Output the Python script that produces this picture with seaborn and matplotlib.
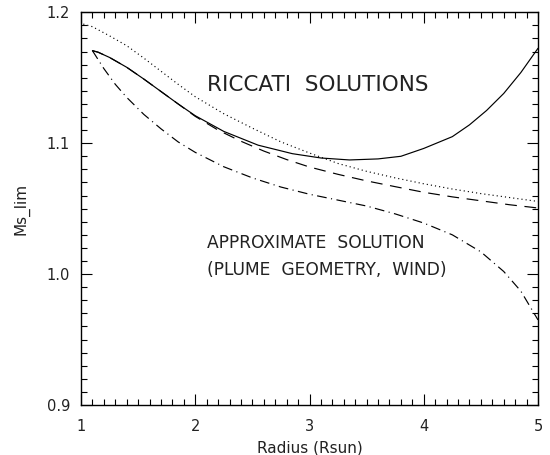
import numpy as np
import pandas as pd
import matplotlib
matplotlib.use("Agg")
import matplotlib.pyplot as plt
import seaborn as sns
from matplotlib.ticker import MultipleLocator

sns.set_style("ticks")
plt.rcParams['font.family'] = ['DejaVu Sans']
plt.rcParams['lines.scale_dashes'] = False

# ---- data ----
solid_x = [1.10, 1.15, 1.25, 1.40, 1.55, 1.70, 1.85, 2.00, 2.25, 2.55, 2.85, 3.10, 3.35,
           3.60, 3.80, 4.00, 4.25, 4.40, 4.55, 4.70, 4.85, 5.00]
solid_y = [1.1707, 1.1695, 1.1655, 1.158, 1.149, 1.1395, 1.130, 1.121, 1.109, 1.0985,
           1.092, 1.0887, 1.0872, 1.088, 1.090, 1.096, 1.105, 1.114, 1.125, 1.138, 1.154, 1.1725]

dotted_x = [1.02, 1.10, 1.25, 1.40, 1.55, 1.70, 1.85, 2.00, 2.25, 2.50, 2.75, 3.00, 3.25,
            3.50, 3.75, 4.00, 4.25, 4.50, 4.75, 5.00]
dotted_y = [1.191, 1.189, 1.182, 1.1745, 1.165, 1.155, 1.145, 1.1355, 1.1225, 1.1115, 1.101,
            1.0925, 1.0845, 1.0785, 1.0735, 1.069, 1.065, 1.0615, 1.0585, 1.0555]

dashed_x = [1.10, 1.15, 1.25, 1.40, 1.55, 1.70, 1.85, 2.00, 2.20, 2.40, 2.60, 2.80, 3.00,
            3.25, 3.50, 3.75, 4.00, 4.25, 4.50, 4.75, 5.00]
dashed_y = [1.1707, 1.1695, 1.1655, 1.158, 1.149, 1.1395, 1.130, 1.1205, 1.110, 1.1015,
            1.094, 1.0875, 1.0818, 1.0762, 1.0712, 1.0668, 1.0625, 1.059, 1.056, 1.053, 1.0505]

dashdot_x = [1.10, 1.20, 1.30, 1.40, 1.55, 1.70, 1.85, 2.00, 2.25, 2.50, 2.75, 3.00, 3.25,
             3.50, 3.75, 4.00, 4.25, 4.50, 4.70, 4.85, 5.00]
dashdot_y = [1.1707, 1.157, 1.145, 1.135, 1.122, 1.111, 1.101, 1.093, 1.082, 1.0735, 1.0665,
             1.061, 1.0565, 1.052, 1.046, 1.039, 1.030, 1.017, 1.002, 0.987, 0.965]

x_ticks = [1, 2, 3, 4, 5]
x_ticklabels = ["1", "2", "3", "4", "5"]
y_ticks = [0.9, 1.0, 1.1, 1.2]
y_ticklabels = ["0.9", "1.0", "1.1", "1.2"]

fig = plt.figure(figsize=(5.5, 4.55), dpi=100)
ax = fig.add_axes([81/550, 1 - 405/455, (538 - 81)/550, (405 - 12.3)/455])

lw = 0.85
sns.lineplot(x=solid_x, y=solid_y, ax=ax, color="black", lw=lw, sort=False, estimator=None)
sns.lineplot(x=dotted_x, y=dotted_y, ax=ax, color="black", lw=lw, sort=False, estimator=None,
             dashes=False)
ax.lines[-1].set_dashes((0.8, 2.2))
sns.lineplot(x=dashed_x, y=dashed_y, ax=ax, color="black", lw=lw, sort=False, estimator=None)
ax.lines[-1].set_dashes((8.5, 5.5))
sns.lineplot(x=dashdot_x, y=dashdot_y, ax=ax, color="black", lw=lw, sort=False, estimator=None)
ax.lines[-1].set_dashes((7.0, 3.2, 0.8, 3.2))

ax.set_xlim(1, 5)
ax.set_ylim(0.9, 1.2)
ax.set_xticks(x_ticks)
ax.set_xticklabels(x_ticklabels)
ax.set_yticks(y_ticks)
ax.set_yticklabels(y_ticklabels)
ax.xaxis.set_minor_locator(MultipleLocator(0.1))
ax.yaxis.set_minor_locator(MultipleLocator(0.01))
ax.tick_params(which="both", direction="in", top=True, right=True, color="black",
               width=0.8, labelsize=10.5, labelcolor="#222222")
ax.tick_params(which="major", length=8)
ax.tick_params(which="minor", length=4)
ax.tick_params(axis="x", which="major", pad=10)
ax.tick_params(axis="y", which="major", pad=8)
for s in ax.spines.values():
    s.set_linewidth(1.0)
    s.set_color("black")

ax.set_xlabel("Radius (Rsun)", fontsize=11, color="#222222", labelpad=5)
ax.set_ylabel("Ms_lim", fontsize=11, color="#222222", labelpad=12)

ax.text(2.10, 1.1445, "RICCATI  SOLUTIONS", fontsize=15.5, va="center", ha="left",
        color="#222222")
ax.text(2.10, 1.0235, "APPROXIMATE  SOLUTION", fontsize=12.3, va="center", ha="left",
        color="#222222")
ax.text(2.10, 1.003, "(PLUME  GEOMETRY,  WIND)", fontsize=12.3, va="center", ha="left",
        color="#222222")

fig.savefig("out.png", dpi=100)
